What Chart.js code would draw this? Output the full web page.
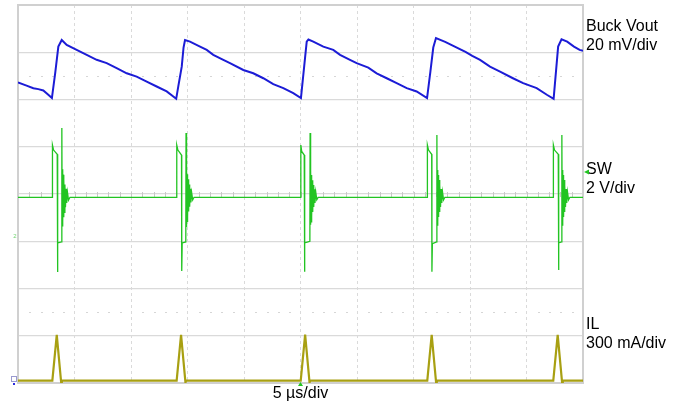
<!DOCTYPE html>
<html>
<head>
<meta charset="utf-8">
<script src="https://cdn.jsdelivr.net/npm/chart.js@4.4.1/dist/chart.umd.min.js"></script>
<style>
  html, body { margin: 0; padding: 0; background: #fff; }
  #scope { display: block; }
</style>
</head>
<body>
<canvas id="scope" width="683" height="408"></canvas>
<script>
/* Buck converter scope capture – Vout ripple, SW node, inductor current */

// ── Timebase / screen ────────────────────────────────────────────────────
const timePerDiv = 5;          // µs/div
const timeDivs   = 10;
const vertDivs   = 8;

// ── Channel scales: units per div, zero level in divs below the top ─────
const voutScale = { perDiv: 20,  zeroDiv: 1.5 };   // mV
const swScale   = { perDiv: 2,   zeroDiv: 4 };     // V
const ilScale   = { perDiv: 300, zeroDiv: 7.95 };  // mA

// ── Traces, [time µs, value] ─────────────────────────────────────────────
const voutTrace = [   // mV
    [0, -2.8], [0.7, -4.0], [1.36, -5.2], [1.8, -5.6], [2.24, -6.2], [2.68, -8.0], [3.0, -9.4],
    [3.3, 1.5], [3.57, 12.4], [3.87, 15.2],
    [4.31, 13.1], [5.19, 11.0], [6.08, 8.9], [6.96, 6.8], [7.85, 5.4], [8.73, 3.3], [9.62, 1.1],
    [10.5, -0.3], [11.39, -2.4], [12.27, -4.5], [13.16, -6.6], [14.0, -9.7],
    [14.2, -4.0], [14.49, 3.9], [14.65, 12.0], [14.78, 15.2],
    [15.22, 14.5], [16.11, 12.4], [16.70, 11.0], [17.28, 8.9], [18.17, 6.8], [18.76, 5.4], [19.94, 2.5],
    [20.82, 1.1], [21.71, -1.0], [22.59, -3.5], [23.48, -5.2], [24.36, -7.3], [25.04, -9.4],
    [25.4, 7.5], [25.55, 14.5], [25.7, 15.4],
    [26.13, 14.5], [27.02, 12.4], [27.90, 11.0], [28.50, 8.9], [29.38, 6.8], [29.97, 5.4], [31.0, 3.5],
    [31.74, 1.1], [32.63, -1.0], [33.51, -3.1], [34.40, -5.2], [35.28, -6.6], [36.2, -9.4],
    [36.5, 2.0], [36.75, 12.0], [36.99, 16.0],
    [37.8, 14.4], [38.7, 12.3], [39.6, 10.2], [40.2, 8.5], [40.89, 6.8], [41.77, 3.9], [42.66, 1.8],
    [43.8, -1.0], [44.7, -3.1], [45.9, -5.2], [46.8, -8.0], [47.4, -9.7],
    [47.8, 12.4], [48.1, 15.5], [48.6, 14.5], [49.2, 12.4], [49.7, 11.0], [50, 10.6]
];

const swTrace = [     // V
    [0, -0.14],
    [3.04, -0.14], [3.05, 2.07], [3.15, 1.86], [3.47, 1.68], [3.49, -3.30], [3.53, -2.07], [3.86, -2.03],
    [3.88, 2.79], [3.91, -1.35], [3.94, 1.05], [3.97, -1.20], [4.00, 0.82], [4.03, -0.98], [4.07, 0.60],
    [4.11, -0.78], [4.15, 0.40], [4.20, -0.56], [4.25, 0.22], [4.31, -0.38], [4.38, 0.06], [4.47, -0.26], [4.60, -0.14],
    [14.04, -0.14], [14.05, 2.07], [14.15, 1.86], [14.47, 1.65], [14.49, -3.26], [14.53, -2.07], [14.85, -2.03],
    [14.87, 2.58], [14.90, -1.40], [14.93, 1.02], [14.96, -1.16], [14.99, 0.84], [15.02, -0.95], [15.06, 0.62],
    [15.10, -0.74], [15.14, 0.40], [15.19, -0.54], [15.24, 0.22], [15.30, -0.36], [15.37, 0.05], [15.46, -0.25], [15.58, -0.14],
    [25.02, -0.14], [25.03, 2.07], [25.11, 1.80], [25.33, 1.65], [25.35, -3.29], [25.39, -2.07], [25.83, -2.00],
    [25.85, 2.58], [25.88, -1.30], [25.91, 1.00], [25.94, -1.18], [25.97, 0.80], [26.00, -0.96], [26.04, 0.58],
    [26.08, -0.76], [26.12, 0.38], [26.17, -0.55], [26.22, 0.20], [26.28, -0.38], [26.35, 0.08], [26.44, -0.24], [26.56, -0.14],
    [36.22, -0.14], [36.23, 2.07], [36.33, 1.86], [36.61, 1.68], [36.63, -3.29], [36.67, -2.10], [37.05, -2.03],
    [37.07, 2.50], [37.10, -1.32], [37.13, 1.02], [37.16, -1.18], [37.19, 0.80], [37.22, -0.97], [37.26, 0.59],
    [37.30, -0.76], [37.34, 0.38], [37.39, -0.55], [37.44, 0.21], [37.50, -0.38], [37.57, 0.08], [37.66, -0.25], [37.78, -0.14],
    [47.37, -0.14], [47.38, 2.07], [47.48, 1.86], [47.81, 1.68], [47.83, -3.22], [47.87, -2.07], [48.11, -2.03],
    [48.13, 2.50], [48.16, -1.32], [48.19, 1.02], [48.22, -1.18], [48.25, 0.80], [48.28, -0.97], [48.32, 0.59],
    [48.36, -0.76], [48.40, 0.38], [48.45, -0.55], [48.50, 0.21], [48.56, -0.38], [48.63, 0.08], [48.72, -0.25], [48.84, -0.14],
    [50, -0.14]
];

const ilTrace = [     // mA
    [0, 0],
    [3.04, 0], [3.43, 290], [3.82, -12], [3.88, 0],
    [14.04, 0], [14.43, 290], [14.82, -12], [14.88, 0],
    [25.02, 0], [25.41, 292], [25.80, -12], [25.86, 0],
    [36.22, 0], [36.61, 290], [37.00, -12], [37.06, 0],
    [47.37, 0], [47.76, 290], [48.15, -12], [48.21, 0],
    [50, 0]
];

// ── Text ─────────────────────────────────────────────────────────────────
const channelNames  = ['Buck Vout', 'SW', 'IL'];
const channelScales = ['20 mV/div', '2 V/div', '300 mA/div'];
const timebaseLabel = '5 µs/div';

// colours
const BLUE  = '#1c1cd6';
const GREEN = '#22c422';
const OLIVE = '#a8a012';
const GRID  = '#dadada';

function toPoints(trace) {
    return trace.map(p => ({ x: p[0], y: p[1] }));
}

function axisRange(s) {
    return {
        min: -(vertDivs - s.zeroDiv) * s.perDiv,
        max: s.zeroDiv * s.perDiv
    };
}

// ── Scope screen extras: frame, centre ticks, reference dots, labels ────
const scopeScreen = {
    id: 'scopeScreen',
    beforeDatasetsDraw(chart) {
        const { ctx, chartArea: a } = chart;
        const divW = (a.right - a.left) / timeDivs;
        const divH = (a.bottom - a.top) / vertDivs;
        ctx.save();

        // centre line minor ticks
        const cy = a.top + divH * 4;
        ctx.strokeStyle = '#c8c8c8';
        ctx.lineWidth = 1;
        ctx.beginPath();
        for (let i = 1; i < timeDivs * 5; i++) {
            const x = Math.round(a.left + i * divW / 5) + 0.5;
            ctx.moveTo(x, cy - 2);
            ctx.lineTo(x, cy + 3);
        }
        ctx.stroke();

        // dotted reference levels
        ctx.fillStyle = '#d6d6d6';
        [1.5, 6.5].forEach(function (d) {
            const y = Math.round(a.top + d * divH);
            for (let i = 1; i < timeDivs * 5; i++) {
                if (i % 5 === 0) continue;
                ctx.fillRect(Math.round(a.left + i * divW / 5), y, 2, 1);
            }
        });

        // frame
        ctx.strokeStyle = '#d0d0d0';
        ctx.lineWidth = 2;
        ctx.strokeRect(a.left, a.top, a.right - a.left, a.bottom - a.top);
        ctx.restore();
    },
    afterDraw(chart) {
        const { ctx, chartArea: a } = chart;
        ctx.save();

        // channel labels on the right
        ctx.fillStyle = '#000';
        ctx.font = '16px "Liberation Sans", Arial, sans-serif';
        ctx.textBaseline = 'middle';
        ctx.textAlign = 'left';
        const rows = [27, 170, 325];
        channelNames.forEach(function (name, i) {
            ctx.fillText(name, a.right + 3, rows[i]);
            ctx.fillText(channelScales[i], a.right + 3, rows[i] + 18.5);
        });

        // timebase label
        ctx.textAlign = 'center';
        ctx.fillText(timebaseLabel, (a.left + a.right) / 2, a.bottom + 11);

        // SW marker on the right edge
        ctx.fillStyle = GREEN;
        ctx.beginPath();
        ctx.moveTo(a.right + 1, 172);
        ctx.lineTo(a.right + 6, 169.5);
        ctx.lineTo(a.right + 6, 174.5);
        ctx.closePath();
        ctx.fill();

        // trigger position marker
        const mx = (a.left + a.right) / 2;
        ctx.beginPath();
        ctx.moveTo(mx, a.bottom - 1);
        ctx.lineTo(mx - 2.5, a.bottom + 3);
        ctx.lineTo(mx + 2.5, a.bottom + 3);
        ctx.closePath();
        ctx.fill();

        // channel ground markers on the left edge
        ctx.font = '6px "Liberation Sans", Arial, sans-serif';
        ctx.fillStyle = '#6fd46f';
        ctx.fillText('2', a.left - 3, 236.5);
        ctx.strokeStyle = '#9a9ad0';
        ctx.lineWidth = 1;
        ctx.strokeRect(a.left - 6.5, 376.5, 5, 5);
        ctx.fillStyle = '#2a2ae0';
        ctx.fillRect(a.left - 5, 383, 2, 2);
        ctx.restore();
    }
};

const vRange  = axisRange(voutScale);
const swRange = axisRange(swScale);
const ilRange = axisRange(ilScale);

new Chart(document.getElementById('scope'), {
    type: 'line',
    data: {
        datasets: [
            {
                label: 'IL',
                data: toPoints(ilTrace),
                yAxisID: 'yIL',
                borderColor: OLIVE,
                borderWidth: 2.2,
                pointRadius: 0,
                tension: 0
            },
            {
                label: 'SW',
                data: toPoints(swTrace),
                yAxisID: 'ySW',
                borderColor: GREEN,
                borderWidth: 1.3,
                pointRadius: 0,
                tension: 0
            },
            {
                label: 'Buck Vout',
                data: toPoints(voutTrace),
                yAxisID: 'yV',
                borderColor: BLUE,
                borderWidth: 2,
                pointRadius: 0,
                tension: 0
            }
        ]
    },
    options: {
        responsive: false,
        animation: false,
        devicePixelRatio: 1,
        layout: { padding: { left: 18, top: 5, right: 100, bottom: 25 } },
        plugins: {
            legend: { display: false },
            tooltip: { enabled: false }
        },
        scales: {
            x: {
                type: 'linear',
                min: 0,
                max: timePerDiv * timeDivs,
                ticks: { display: false, stepSize: timePerDiv },
                grid: { color: GRID, drawTicks: false, lineWidth: 1 },
                border: { display: false, dash: [3, 3] }
            },
            y: {
                min: -vertDivs / 2,
                max: vertDivs / 2,
                ticks: { display: false, stepSize: 1 },
                grid: { color: GRID, drawTicks: false, lineWidth: 1.2 },
                border: { display: false }
            },
            yV:  { display: false, min: vRange.min,  max: vRange.max },
            ySW: { display: false, min: swRange.min, max: swRange.max },
            yIL: { display: false, min: ilRange.min, max: ilRange.max }
        }
    },
    plugins: [scopeScreen]
});
</script>
</body>
</html>
